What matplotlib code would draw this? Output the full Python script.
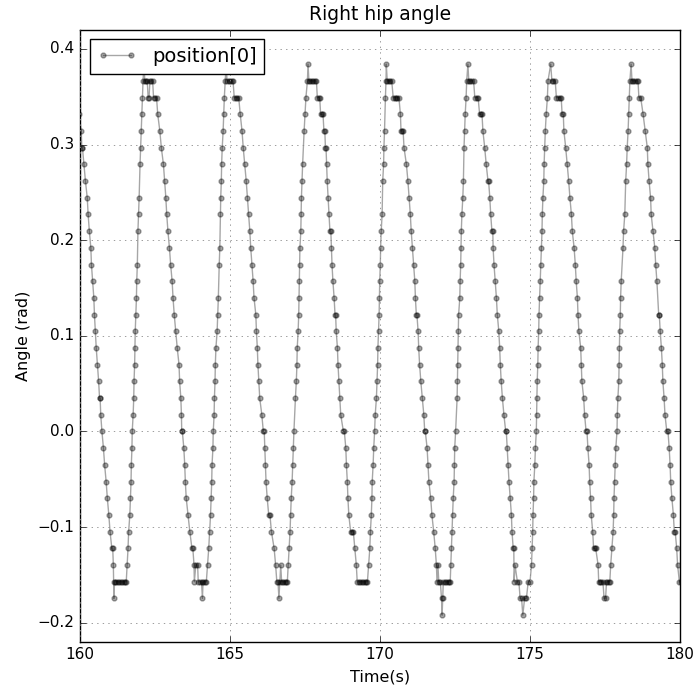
import numpy as np
import matplotlib
matplotlib.use("Agg")
import matplotlib.pyplot as plt

# Right hip angle. Angles are whole degrees (sensor steps),
# converted to radians when plotted. One list pair per stride (trough to trough).
time_0 = [159.96, 160.04, 160.06, 160.08, 160.13, 160.18, 160.24, 160.27, 160.31, 160.36,
          160.38, 160.42, 160.46, 160.48, 160.51, 160.54, 160.58, 160.62, 160.65, 160.67,
          160.69, 160.73, 160.78, 160.82, 160.87, 160.91, 160.96, 161.00, 161.06, 161.09,
          161.11, 161.12, 161.13, 161.15, 161.20, 161.25, 161.30, 161.35, 161.40, 161.45,
          161.50, 161.54]
deg_0 = [19, 18, 17, 17, 16, 15, 14, 13, 12, 11,
         10, 9, 8, 7, 6, 5, 4, 3, 2, 2,
         1, 0, -1, -2, -3, -4, -5, -6, -7, -7,
         -8, -9, -10, -9, -9, -9, -9, -9, -9, -9,
         -9, -9]

time_1 = [161.57, 161.60, 161.62, 161.66, 161.68, 161.70, 161.71, 161.73, 161.74, 161.77,
          161.79, 161.80, 161.82, 161.83, 161.84, 161.86, 161.88, 161.89, 161.91, 161.93,
          161.95, 161.97, 162.00, 162.02, 162.04, 162.06, 162.08, 162.10, 162.13, 162.16,
          162.20, 162.24, 162.27, 162.30, 162.33, 162.37, 162.42, 162.45, 162.50, 162.55,
          162.59, 162.66, 162.71, 162.78, 162.82, 162.86, 162.89, 162.93, 162.98, 163.02,
          163.07, 163.10, 163.14, 163.19, 163.24, 163.30, 163.32, 163.36, 163.38, 163.39,
          163.41, 163.46, 163.49, 163.51, 163.54, 163.60, 163.66, 163.73, 163.76, 163.80,
          163.81, 163.86, 163.92, 163.94, 164.00, 164.05, 164.08, 164.10, 164.15, 164.21]
deg_1 = [-8, -7, -6, -5, -4, -3, -2, -1, 0, 1,
         2, 3, 4, 5, 6, 7, 8, 9, 10, 12,
         13, 14, 16, 17, 18, 19, 20, 21, 22, 21,
         21, 21, 20, 20, 21, 21, 21, 20, 20, 20,
         19, 18, 17, 16, 15, 14, 13, 12, 11, 10,
         9, 8, 7, 6, 5, 4, 3, 2, 1, 0,
         0, -1, -2, -3, -4, -5, -6, -7, -7, -8,
         -9, -8, -8, -9, -9, -9, -10, -9, -9, -9]

time_2 = [164.25, 164.29, 164.32, 164.35, 164.37, 164.39, 164.40, 164.43, 164.44, 164.47,
          164.48, 164.50, 164.51, 164.53, 164.57, 164.59, 164.61, 164.64, 164.66, 164.68,
          164.69, 164.71, 164.72, 164.74, 164.77, 164.79, 164.81, 164.84, 164.87, 164.90,
          164.95, 165.00, 165.05, 165.10, 165.14, 165.19, 165.24, 165.29, 165.34, 165.40,
          165.44, 165.49, 165.54, 165.58, 165.62, 165.66, 165.69, 165.73, 165.77, 165.80,
          165.86, 165.88, 165.91, 165.93, 165.96, 165.99, 166.06, 166.11, 166.14, 166.16,
          166.18, 166.20, 166.24, 166.29, 166.33, 166.38, 166.47, 166.52, 166.56, 166.60,
          166.63, 166.66, 166.69, 166.72, 166.77, 166.82, 166.87, 166.91]
deg_2 = [-8, -7, -6, -5, -4, -3, -2, -1, 0, 1,
         2, 3, 4, 5, 6, 7, 8, 10, 11, 13,
         14, 15, 16, 17, 18, 19, 20, 21, 22, 21,
         21, 21, 21, 21, 20, 20, 20, 20, 19, 18,
         17, 16, 15, 14, 13, 12, 11, 10, 9, 8,
         7, 6, 5, 4, 3, 2, 1, 0, 0, -1,
         -2, -3, -4, -5, -5, -6, -7, -8, -9, -9,
         -10, -9, -8, -9, -9, -9, -9, -9]

time_3 = [166.94, 166.97, 167.00, 167.02, 167.04, 167.07, 167.09, 167.11, 167.13, 167.18,
          167.21, 167.23, 167.24, 167.27, 167.29, 167.30, 167.31, 167.32, 167.33, 167.36,
          167.37, 167.38, 167.40, 167.42, 167.47, 167.50, 167.53, 167.58, 167.60, 167.63,
          167.68, 167.73, 167.78, 167.83, 167.88, 167.91, 167.95, 167.99, 168.02, 168.06,
          168.10, 168.13, 168.16, 168.18, 168.20, 168.22, 168.24, 168.27, 168.30, 168.33,
          168.36, 168.38, 168.40, 168.43, 168.47, 168.50, 168.52, 168.54, 168.58, 168.60,
          168.63, 168.66, 168.69, 168.78, 168.81, 168.86, 168.88, 168.91, 168.93, 168.96,
          169.02, 169.07, 169.11, 169.16, 169.21, 169.24, 169.29, 169.34, 169.39, 169.44,
          169.49, 169.54, 169.58]
deg_3 = [-8, -7, -6, -5, -4, -3, -2, -1, 0, 2,
         3, 4, 5, 6, 7, 8, 9, 10, 11, 12,
         13, 14, 15, 16, 18, 19, 20, 21, 22, 21,
         21, 21, 21, 21, 21, 20, 20, 20, 19, 19,
         19, 18, 18, 17, 17, 16, 15, 14, 13, 12,
         12, 11, 10, 9, 8, 7, 7, 6, 5, 4,
         3, 2, 1, 0, 0, -1, -2, -3, -4, -5,
         -6, -6, -6, -7, -8, -9, -9, -9, -9, -9,
         -9, -9, -9]

time_4 = [169.62, 169.66, 169.68, 169.71, 169.73, 169.74, 169.77, 169.79, 169.82, 169.84,
          169.88, 169.90, 169.92, 169.93, 169.95, 169.97, 169.98, 169.99, 170.01, 170.02,
          170.04, 170.07, 170.09, 170.12, 170.13, 170.15, 170.18, 170.20, 170.21, 170.24,
          170.29, 170.34, 170.39, 170.44, 170.49, 170.54, 170.58, 170.63, 170.68, 170.70,
          170.74, 170.77, 170.80, 170.88, 170.93, 170.97, 171.01, 171.04, 171.08, 171.12,
          171.16, 171.18, 171.21, 171.23, 171.27, 171.29, 171.32, 171.36, 171.41, 171.46,
          171.49, 171.51, 171.57, 171.60, 171.63, 171.69, 171.73, 171.79, 171.84, 171.88,
          171.90, 171.93, 171.96, 172.01, 172.05, 172.07, 172.09, 172.11, 172.16, 172.21,
          172.26, 172.30, 172.34]
deg_4 = [-8, -7, -6, -5, -4, -3, -2, -1, 0, 1,
         2, 3, 4, 5, 6, 7, 8, 9, 10, 11,
         12, 13, 15, 16, 17, 18, 20, 21, 22, 21,
         21, 21, 21, 20, 20, 20, 20, 20, 19, 18,
         18, 18, 17, 16, 15, 14, 13, 12, 11, 10,
         9, 8, 7, 7, 6, 5, 4, 3, 2, 1,
         0, 0, -1, -2, -3, -4, -5, -6, -7, -8,
         -9, -8, -9, -9, -10, -11, -10, -9, -9, -9,
         -9, -9, -9]

time_5 = [172.36, 172.38, 172.40, 172.42, 172.44, 172.47, 172.48, 172.49, 172.52, 172.57,
          172.58, 172.59, 172.60, 172.61, 172.62, 172.66, 172.67, 172.69, 172.70, 172.71,
          172.73, 172.76, 172.78, 172.80, 172.82, 172.84, 172.87, 172.89, 172.93, 172.96,
          173.01, 173.07, 173.12, 173.16, 173.22, 173.27, 173.32, 173.36, 173.40, 173.43,
          173.49, 173.54, 173.60, 173.62, 173.66, 173.69, 173.73, 173.76, 173.77, 173.80,
          173.84, 173.88, 173.91, 173.96, 173.99, 174.01, 174.04, 174.08, 174.13, 174.19,
          174.21, 174.24, 174.27, 174.30, 174.34, 174.38, 174.40, 174.44, 174.46, 174.47,
          174.50, 174.58, 174.63, 174.67, 174.72, 174.76, 174.82, 174.88, 174.94, 175.00]
deg_5 = [-8, -7, -6, -5, -4, -3, -2, -1, 0, 2,
         3, 4, 5, 6, 7, 8, 9, 10, 11, 12,
         13, 14, 15, 17, 18, 19, 20, 21, 22, 21,
         21, 21, 21, 20, 20, 20, 19, 19, 19, 18,
         17, 16, 15, 15, 14, 13, 12, 12, 11, 10,
         9, 8, 7, 6, 5, 4, 3, 2, 1, 0,
         0, -1, -2, -3, -4, -5, -6, -7, -7, -9,
         -8, -9, -9, -10, -10, -11, -10, -10, -9, -9]

time_6 = [175.05, 175.07, 175.09, 175.10, 175.12, 175.13, 175.16, 175.18, 175.21, 175.22,
          175.23, 175.24, 175.26, 175.27, 175.29, 175.30, 175.32, 175.34, 175.36, 175.38,
          175.40, 175.41, 175.43, 175.46, 175.47, 175.49, 175.51, 175.54, 175.58, 175.60,
          175.69, 175.73, 175.78, 175.84, 175.88, 175.93, 175.99, 176.04, 176.07, 176.11,
          176.13, 176.19, 176.24, 176.29, 176.33, 176.38, 176.41, 176.47, 176.51, 176.54,
          176.58, 176.60, 176.63, 176.69, 176.71, 176.73, 176.79, 176.82, 176.87, 176.90,
          176.93, 176.97, 176.99, 177.02, 177.04, 177.09, 177.12, 177.16, 177.19, 177.27,
          177.29, 177.34, 177.38, 177.43, 177.47, 177.52, 177.55, 177.58, 177.62, 177.66]
deg_6 = [-8, -7, -6, -5, -4, -3, -2, -1, 0, 1,
         2, 3, 4, 5, 6, 7, 8, 9, 10, 11,
         12, 13, 14, 15, 16, 17, 18, 19, 20, 21,
         22, 21, 21, 21, 20, 20, 20, 20, 19, 19,
         18, 17, 16, 15, 14, 13, 12, 11, 10, 9,
         8, 7, 6, 5, 4, 3, 2, 1, 0, 0,
         -1, -2, -3, -4, -5, -6, -7, -7, -7, -8,
         -9, -9, -9, -9, -10, -10, -9, -9, -9, -9]

time_7 = [177.69, 177.73, 177.77, 177.79, 177.80, 177.82, 177.84, 177.86, 177.90, 177.91,
          177.93, 177.96, 177.97, 177.98, 177.99, 178.01, 178.02, 178.04, 178.10, 178.12,
          178.16, 178.19, 178.22, 178.24, 178.27, 178.29, 178.31, 178.33, 178.37, 178.40,
          178.45, 178.51, 178.56, 178.60, 178.63, 178.69, 178.77, 178.84, 178.91, 178.93,
          178.97, 179.02, 179.04, 179.10, 179.16, 179.19, 179.23, 179.29, 179.31, 179.34,
          179.38, 179.41, 179.43, 179.47, 179.50, 179.56, 179.60, 179.64, 179.67, 179.69,
          179.73, 179.78, 179.81, 179.84, 179.89, 179.92, 179.98, 180.05]
deg_7 = [-8, -7, -6, -5, -4, -3, -2, -1, 0, 1,
         2, 3, 4, 5, 6, 7, 8, 9, 11, 12,
         13, 15, 16, 17, 18, 19, 20, 21, 22, 21,
         21, 21, 21, 21, 20, 20, 19, 18, 17, 16,
         15, 14, 13, 12, 11, 10, 9, 7, 7, 6,
         5, 4, 3, 2, 1, 0, 0, -1, -2, -3,
         -4, -5, -6, -6, -7, -8, -9, -9]

time_s = np.concatenate([time_0, time_1, time_2, time_3, time_4, time_5, time_6, time_7])
angle_deg = np.concatenate([deg_0, deg_1, deg_2, deg_3, deg_4, deg_5, deg_6, deg_7])
angle_rad = np.radians(angle_deg)

plt.style.use('classic')
fig = plt.figure(figsize=(6.96, 6.91), dpi=100, facecolor='white')
ax = fig.add_axes([0.115, 0.071, 0.862, 0.886])

ax.plot(time_s, angle_rad, 'o-', color='k', alpha=0.35, markersize=3.5,
        markeredgewidth=1.0, linewidth=1.0, label='position[0]')

ax.set_xlim(160, 180)
ax.set_ylim(-0.22, 0.42)
ax.set_xticks([160, 165, 170, 175, 180])
ax.set_yticks([-0.2, -0.1, 0.0, 0.1, 0.2, 0.3, 0.4])
ax.tick_params(labelsize=11)
ax.grid(True, color='0.55', linestyle=':', linewidth=0.6)
ax.set_title('Right hip angle', fontsize=13.5, y=1.005)
ax.set_xlabel('Time(s)', fontsize=11.5)
ax.set_ylabel('Angle (rad)', fontsize=11.5)
ax.legend(loc='upper left', fontsize=14, numpoints=2)

fig.savefig('out.png', dpi=100, facecolor='white')
